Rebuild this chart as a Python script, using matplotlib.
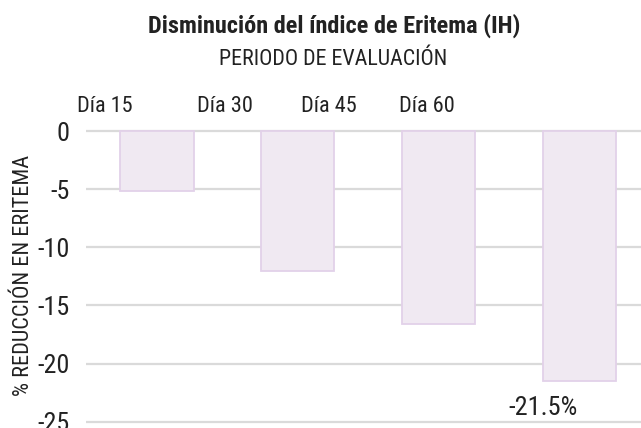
import matplotlib.pyplot as plt
from matplotlib.font_manager import fontManager, FontProperties
import numpy as np

# Datos del grafico
periodos = ['Día 15', 'Día 30', 'Día 45', 'Día 60']
reduccion = [-5.2, -12.0, -16.6, -21.5]
pos_etiquetas = [-0.373, 0.483, 1.222, 1.919]   # las etiquetas de arriba no coinciden con las barras
yticks = [0, -5, -10, -15, -20, -25]

texto = '#222222'
PESOS = {'normal': 400, 'regular': 400, 'book': 400, 'medium': 500, 'semibold': 600,
         'demibold': 600, 'bold': 700, 'heavy': 800, 'black': 900, 'light': 300}
# la original es una DIN muy condensada: se prefiere extra-condensed
ANCHOS = {'extra-condensed': 0, 'condensed': 1, 'semi-condensed': 2, 'ultra-condensed': 3}


def buscar_fuente(peso):
    prefer = ['Noto Sans', 'Roboto Condensed', 'Liberation Sans Narrow', 'Open Sans',
              'DejaVu Sans', 'Roboto', 'Lato', 'Inter']
    cand = []
    for f in fontManager.ttflist:
        st = str(f.stretch).lower()
        if f.style != 'normal':
            continue
        if st not in ANCHOS and 'condensed' not in f.name.lower() and 'narrow' not in f.name.lower():
            continue
        w = f.weight if isinstance(f.weight, int) else PESOS.get(str(f.weight).lower(), 400)
        idx = prefer.index(f.name) if f.name in prefer else len(prefer)
        cand.append((abs(w - peso), ANCHOS.get(st, 1), idx, f.fname))
    if not cand:
        return FontProperties(family='DejaVu Sans', weight=peso)
    cand.sort()
    return FontProperties(fname=cand[0][3])


fp_reg = buscar_fuente(400)
fp_bold = buscar_fuente(700)

fig = plt.figure(figsize=(6.41, 4.28), dpi=100)
ax = fig.add_axes([86 / 641, 1 - 427.5 / 428, 555 / 641, 302.3 / 428])

x = np.arange(len(reduccion))
ancho = 0.52
ax.bar(x, reduccion, width=ancho, color='#f0e9f2', edgecolor='#e2d1e9', linewidth=1.3, zorder=3)

ax.set_xlim(-0.505, 3.44)
ax.set_ylim(-25.5, 0.5)
ax.set_yticks(yticks)
ax.set_yticklabels([str(v) for v in yticks])
ax.grid(axis='y', color='#dadada', linewidth=1.6, zorder=0)

ax.xaxis.tick_top()
ax.set_xticks(pos_etiquetas)
ax.set_xticklabels(periodos)
ax.tick_params(axis='x', length=0, pad=6, labelcolor=texto)
ax.tick_params(axis='y', length=0, pad=12, labelcolor=texto)
for s in ax.spines.values():
    s.set_visible(False)

# etiqueta de la ultima barra
t_barra = ax.text(x[-1] - ancho / 2, reduccion[-1] - 2.3, f'{reduccion[-1]}%', ha='center', va='center',
                  color=texto, fontproperties=fp_reg.copy())

t_tit = fig.text(334 / 641, 1 - 33 / 428, 'Disminución del índice de Eritema (IH)', ha='center',
                 va='baseline', color=texto, fontproperties=fp_bold.copy())
t_sub = fig.text(333.5 / 641, 1 - 65 / 428, 'PERIODO DE EVALUACIÓN', ha='center', va='baseline',
                 color=texto, fontproperties=fp_reg.copy())
t_ylab = fig.text(24 / 641, 1 - 275 / 428, '% REDUCCIÓN EN ERITEMA', rotation=90, ha='center',
                  va='center', color=texto, fontproperties=fp_reg.copy())

xt = ax.get_xticklabels()
yt = ax.get_yticklabels()
for t in xt + yt:
    t.set_fontproperties(fp_reg.copy())

# ajusta tamanos al ancho medido en la imagen de referencia (px), con tope por altura
rend = fig.canvas.get_renderer()


def ajustar(textos, ref, objetivo, tope, vertical=False):
    ref.set_fontsize(10)
    bb = ref.get_window_extent(rend)
    medido = bb.height if vertical else bb.width
    tam = min(tope, 10 * objetivo / medido)
    for t in textos:
        t.set_fontsize(tam)


ajustar([t_tit], t_tit, 372, 17.5)
ajustar([t_sub], t_sub, 228, 16)
ajustar([t_ylab], t_ylab, 248, 16, vertical=True)
ajustar([t_barra], t_barra, 70, 19)
ajustar(xt, xt[0], 59, 16)
ajustar(yt, yt[2], 32, 19)

fig.savefig('out.png', dpi=100)
